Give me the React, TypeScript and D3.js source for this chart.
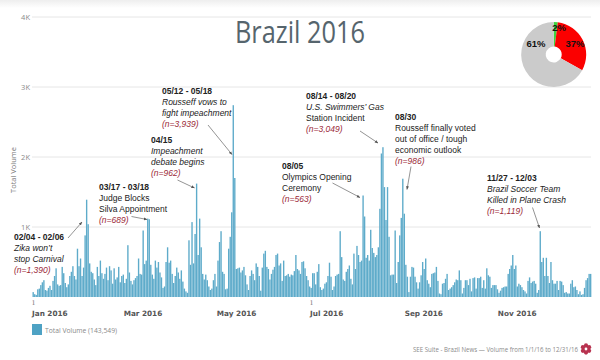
import React from "react";
import * as d3 from "d3";

const jan = [70,40,30,110,120,170,210,240,100,90,130,160,100,230,300,410,180,160,170,430,340,200,140,180,300,360,440,300,250,690,440];
const feb = [550,300,420,880,1390,1040,480,360,340,250,170,430,300,520,340,260,330,420,240,440,380,190,410,250,280,430,210,300,320];
const mar = [200,260,740,350,230,180,240,270,300,550,330,320,950,470,520,1120,1110,460,320,260,520,420,500,350,280,130,150,500,710,490,520];
const apr = [330,200,300,420,350,260,380,220,120,80,60,810,460,1070,480,900,1620,600,1120,710,330,250,320,240,150,100,120,240,330,150];
const may = [520,785,940,360,330,110,120,690,860,1210,2740,1700,400,410,420,350,380,430,310,180,100,300,380,330,240,480,430,300,90,420,620];
const jun = [660,430,400,250,330,390,430,600,620,450,480,230,520,300,310,330,290,320,310,370,600,400,380,330,500,510,410,300,240,150];
const jul = [130,340,340,180,360,470,140,100,120,190,210,300,490,290,100,150,300,320,330,940,570,250,230,360,400,450,260,180,620,400,730];
const aug = [600,500,520,1450,1150,560,600,520,960,700,630,570,600,710,1260,2050,2140,1570,1100,1570,860,310,320,320,950,200,500,880,1130,1690,1190];
const sep = [460,290,70,290,430,420,290,210,120,210,310,500,400,550,240,190,140,330,340,350,430,230,50,40,190,200,260,330,100,120];
const oct = [140,170,210,250,240,380,240,50,130,240,240,170,260,80,270,280,120,270,270,290,130,240,120,410,310,290,130,170,170,170,110];
const nov = [60,90,130,140,150,150,330,400,450,600,400,450,150,190,170,140,100,80,50,230,280,200,220,230,190,60,100,940,500,560];
const dec = [300,560,300,200,500,240,190,190,230,100,230,220,170,60,70,50,50,190,240,140,150,100,40,80,30,40,130,240,270,330,330];
const volume = [jan, feb, mar, apr, may, jun, jul, aug, sep, oct, nov, dec].flat();

const yTicks = [1000, 2000, 3000, 4000];
const yTickLabels = ["1K", "2K", "3K", "4K"];
const monthLabels = ["Jan 2016", "Mar 2016", "May 2016", "Jul 2016", "Sep 2016", "Nov 2016"];
const monthStarts = [0, 60, 121, 182, 244, 305];
const dayTicks = [0, 182];

// Slice sizes as drawn in the picture; the printed labels are kept separately.
const pieShares = [2, 31, 67];
const pieLabels = ["2%", "37%", "61%"];
const pieColors = ["#3fd43f", "#fb0000", "#cbcbcb"];

type Line = { t: string; k: "date" | "i" | "r" | "n" };
const notes: { x: number; y: number; lines: Line[]; arrow: number[] }[] = [
  { x: 14, y: 240, arrow: [68, 238, 82, 222], lines: [
    { t: "02/04 - 02/06", k: "date" }, { t: "Zika won’t", k: "i" }, { t: "stop Carnival", k: "i" }, { t: "(n=1,390)", k: "n" } ] },
  { x: 99, y: 189.5, arrow: [131.5, 216.5, 147, 219.5], lines: [
    { t: "03/17 - 03/18", k: "date" }, { t: "Judge Blocks", k: "r" }, { t: "Silva Appointment", k: "r" }, { t: "(n=689)", k: "n" } ] },
  { x: 151, y: 143, arrow: [177.5, 180, 194.5, 188], lines: [
    { t: "04/15", k: "date" }, { t: "Impeachment", k: "i" }, { t: "debate begins", k: "i" }, { t: "(n=962)", k: "n" } ] },
  { x: 162, y: 94, arrow: [208, 125, 232, 154.5], lines: [
    { t: "05/12 - 05/18", k: "date" }, { t: "Rousseff vows to", k: "i" }, { t: "fight impeachment", k: "i" }, { t: "(n=3,939)", k: "n" } ] },
  { x: 306, y: 99, arrow: [360, 131, 378, 143], lines: [
    { t: "08/14 - 08/20", k: "date" }, { t: "U.S. Swimmers’ Gas", k: "i" }, { t: "Station Incident", k: "r" }, { t: "(n=3,049)", k: "n" } ] },
  { x: 282, y: 169, arrow: [332.5, 183, 360, 197.5], lines: [
    { t: "08/05", k: "date" }, { t: "Olympics Opening", k: "r" }, { t: "Ceremony", k: "r" }, { t: "(n=563)", k: "n" } ] },
  { x: 395, y: 120, arrow: [411, 166.5, 407, 189.5], lines: [
    { t: "08/30", k: "date" }, { t: "Rousseff finally voted", k: "r" }, { t: "out of office / tough", k: "r" }, { t: "economic outlook", k: "r" }, { t: "(n=986)", k: "n" } ] },
  { x: 487, y: 181, arrow: [532.5, 207.5, 539.5, 228], lines: [
    { t: "11/27 - 12/03", k: "date" }, { t: "Brazil Soccer Team", k: "i" }, { t: "Killed in Plane Crash", k: "i" }, { t: "(n=1,119)", k: "n" } ] },
];

const x = d3.scaleLinear().domain([0, 366]).range([32.5, 591.5]);
const y = d3.scaleLinear().domain([0, 4000]).range([297, 17]);

const pieGen = d3.pie<number>().sort(null);
const arcGen = d3.arc<d3.PieArcDatum<number>>().innerRadius(8).outerRadius(32.5);

const sans = "'Liberation Sans', Arial, sans-serif";

function Gear({ cx, cy }: { cx: number; cy: number }) {
  const angles = d3.range(6).map((i) => (i * Math.PI) / 3);
  return (
    <g>
      {angles.map((a, i) => (
        <circle key={i} cx={cx + Math.sin(a) * 3.6} cy={cy - Math.cos(a) * 3.6} r={2.1} fill="#b83350" />
      ))}
      <circle cx={cx} cy={cy} r={3.6} fill="#b83350" />
      <circle cx={cx} cy={cy} r={1.4} fill="#fff" />
    </g>
  );
}

export default function App() {
  const bw = x(1) - x(0);
  const slices = pieGen(pieShares);
  return (
    <svg width={600} height={360} style={{ position: "absolute", left: 0, top: 0, background: "#fff" }}>
      <defs>
        <linearGradient id="band" x1="0" x2="0" y1="0" y2="1">
          <stop offset="0" stopColor="#eeeeee" />
          <stop offset="1" stopColor="#ffffff" />
        </linearGradient>
        <marker id="head" viewBox="0 0 6 6" refX="5.5" refY="3" markerWidth="5" markerHeight="5" orient="auto">
          <path d="M0,0.6L6,3L0,5.4Z" fill="#555" />
        </marker>
      </defs>
      <rect x={0} y={0} width={600} height={8} fill="url(#band)" />

      {yTicks.map((t, i) => (
        <g key={t}>
          <line x1={32} x2={591} y1={y(t)} y2={y(t)} stroke="#e6e6e6" strokeWidth={1} />
          <text x={30} y={y(t) + 3} textAnchor="end" fontFamily="'Open Sans', sans-serif" fontSize={7.5} fill="#8a8a8a">
            {yTickLabels[i]}
          </text>
        </g>
      ))}

      <text transform="translate(16,170) rotate(-90)" textAnchor="middle" fontFamily="'Open Sans', sans-serif" fontSize={7.5} fill="#777">
        Total Volume
      </text>

      <text x={235} y={43} textLength={130} lengthAdjust="spacingAndGlyphs" fontFamily="'Open Sans', sans-serif" fontSize={31} fill="#56656d">
        Brazil 2016
      </text>

      {volume.map((v, i) => (
        <rect key={i} x={x(i)} y={y(v)} width={bw - 0.15} height={y(0) - y(v)} fill="#5eabca" />
      ))}

      {dayTicks.map((d) => (
        <text key={d} x={x(d) + 1} y={305} textAnchor="middle" fontFamily="'DejaVu Serif', serif" fontSize={6.5} fill="#777">
          1
        </text>
      ))}
      {monthLabels.map((m, i) => (
        <text key={m} x={x(monthStarts[i]) - 0.5} y={316} fontFamily="'DejaVu Sans', sans-serif" fontWeight="bold" fontSize={7.3} fill="#555">
          {m}
        </text>
      ))}

      <rect x={32} y={324} width={10} height={11} fill="#4ea2c4" />
      <text x={45} y={332.5} textLength={72} lengthAdjust="spacingAndGlyphs" fontFamily="'Open Sans', sans-serif" fontSize={7.5} fill="#8a8a8a">
        Total Volume (143,549)
      </text>
      <text x={413} y={351.5} textLength={165} lengthAdjust="spacingAndGlyphs" fontFamily="'Open Sans', sans-serif" fontSize={6.8} fill="#8a8a8a">
        SEE Suite - Brazil News — Volume from 1/1/16 to 12/31/16
      </text>
      <Gear cx={586} cy={349} />

      <g transform="translate(553.7,54.5)">
        {slices.map((s, i) => (
          <path key={i} d={arcGen(s) || ""} fill={pieColors[i]} />
        ))}
      </g>
      <g fontFamily={sans} fontWeight="bold" fontSize={9.5} fill="#111" textAnchor="middle">
        <text x={559} y={31}>{pieLabels[0]}</text>
        <text x={575} y={46.5}>{pieLabels[1]}</text>
        <text x={536} y={46.5}>{pieLabels[2]}</text>
      </g>

      {notes.map((n, i) => (
        <g key={i}>
          {n.lines.map((l, j) => (
            <text
              key={j}
              x={n.x}
              y={n.y + j * 11}
              fontFamily={sans}
              fontSize={8.5}
              fontWeight={l.k === "date" ? "bold" : "normal"}
              fontStyle={l.k === "i" || l.k === "n" ? "italic" : "normal"}
              fill={l.k === "n" ? "#9c2b3a" : "#222"}
            >
              {l.t}
            </text>
          ))}
          <line
            x1={n.arrow[0]}
            y1={n.arrow[1]}
            x2={n.arrow[2]}
            y2={n.arrow[3]}
            stroke="#666"
            strokeWidth={0.7}
            markerEnd="url(#head)"
          />
        </g>
      ))}
    </svg>
  );
}
